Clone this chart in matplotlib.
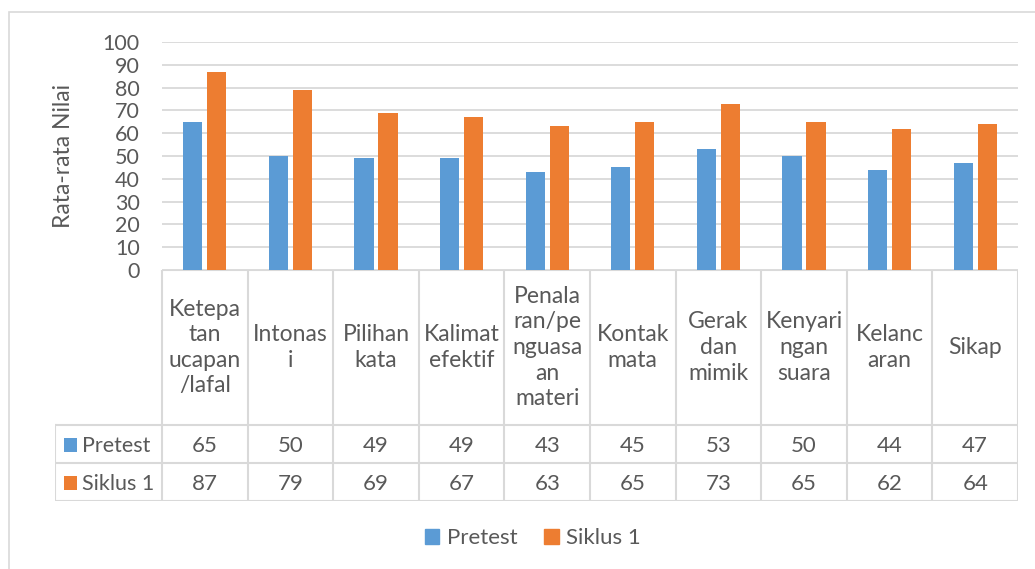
import matplotlib.pyplot as plt
from matplotlib.patches import Rectangle
import numpy as np

plt.rcParams['font.family'] = ['Lato', 'DejaVu Sans']

kategori = [
    "Ketepa\ntan\nucapan\n/lafal",
    "Intonas\ni",
    "Pilihan\nkata",
    "Kalimat\nefektif",
    "Penala\nran/pe\nnguasa\nan\nmateri",
    "Kontak\nmata",
    "Gerak\ndan\nmimik",
    "Kenyari\nngan\nsuara",
    "Kelanc\naran",
    "Sikap",
]
pretest = [65, 50, 49, 49, 43, 45, 53, 50, 44, 47]
siklus1 = [87, 79, 69, 67, 63, 65, 73, 65, 62, 64]
seri = ["Pretest", "Siklus 1"]
warna = ["#5B9BD5", "#ED7D31"]
yticks = [0, 10, 20, 30, 40, 50, 60, 70, 80, 90, 100]

teks = "#595959"
abu = "#D9D9D9"
W, H = 1035, 569

fig = plt.figure(figsize=(W / 100, H / 100), dpi=100)

# bingkai luar chart
fig.patches.append(Rectangle((9 / W, -0.1), 1.2, (H - 12) / H + 0.1, transform=fig.transFigure,
                             fill=False, edgecolor=abu, linewidth=1.2))

# area plot: x 162..1018 px, y 42..270 px
ax = fig.add_axes([162 / W, (H - 270) / H, 856 / W, 228 / H])
x = np.arange(len(kategori))
lebar = 0.225
ax.bar(x - 0.14, pretest, lebar, color=warna[0], zorder=3)
ax.bar(x + 0.14, siklus1, lebar, color=warna[1], zorder=3)
ax.set_xlim(-0.5, len(kategori) - 0.5)
ax.set_ylim(0, 100)
ax.set_yticks(yticks)
ax.set_yticklabels([str(v) for v in yticks], fontsize=15.5, color=teks)
ax.tick_params(axis='y', length=0, pad=16)
ax.set_xticks([])
for s in ax.spines.values():
    s.set_visible(False)
ax.yaxis.grid(True, color=abu, linewidth=1.3, zorder=0)
ax.set_ylabel("Rata-rata Nilai", fontsize=16.5, color=teks)
ax.yaxis.set_label_coords(-0.103, 0.5)

# tabel data: x 55..1018 px, y 270..501 px
tb = fig.add_axes([55 / W, (H - 501) / H, 963 / W, 231 / H])
kol = 856 / 10  # lebar satu kolom dalam px
x0 = -(162 - 55) / kol - 0.5
tb.set_xlim(x0, len(kategori) - 0.5)
tb.set_ylim(231, 0)
tb.axis('off')
h_head, h_row = 155, 38
garis = dict(color=abu, linewidth=1.5, zorder=1)
# garis horizontal
tb.plot([-0.5, len(kategori) - 0.5], [0, 0], **garis)
for yy in [h_head, h_head + h_row, h_head + 2 * h_row]:
    tb.plot([x0, len(kategori) - 0.5], [yy, yy], **garis)
# garis vertikal
for i in range(len(kategori) + 1):
    tb.plot([i - 0.5, i - 0.5], [0, h_head + 2 * h_row], **garis)
tb.plot([x0, x0], [h_head, h_head + 2 * h_row], **garis)

for i, k in enumerate(kategori):
    tb.text(i, h_head / 2, k, ha='center', va='center', fontsize=16.5, color=teks,
            linespacing=1.27)
for r, (nama, nilai) in enumerate(zip(seri, [pretest, siklus1])):
    yc = h_head + h_row * (r + 0.5) + 1.5
    tb.add_patch(Rectangle((x0 + 0.1, yc - 7.5), 0.16, 14, color=warna[r], linewidth=0))
    tb.text(x0 + 0.31, yc, nama, ha='left', va='center', fontsize=15.5, color=teks)
    for i, v in enumerate(nilai):
        tb.text(i, yc, str(v), ha='center', va='center', fontsize=16, color=teks)

# legenda
handles = [Rectangle((0, 0), 1, 1, color=c) for c in warna]
fig.legend(handles, seri, loc='center', bbox_to_anchor=(533 / W, (H - 538) / H),
           ncol=2, frameon=False, fontsize=16, labelcolor=teks,
           handlelength=0.65, handleheight=0.65, handletextpad=0.35, columnspacing=1.2)

fig.savefig("out.png", dpi=100)
